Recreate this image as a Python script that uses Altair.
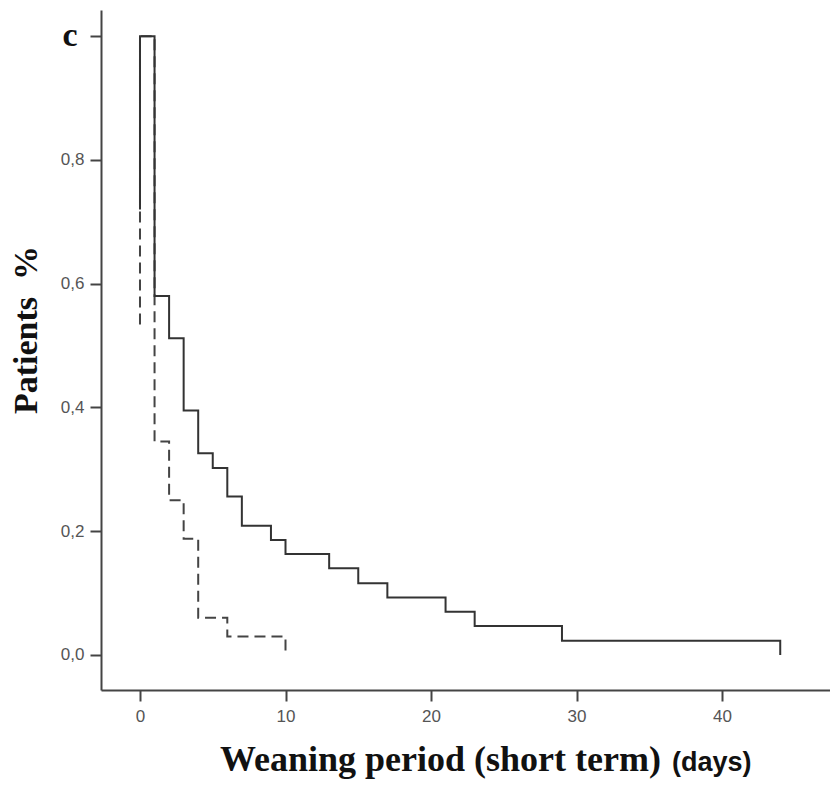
import altair as alt
import pandas as pd

# Solid curve path (days, fraction of patients)
solid_x = [0, 0, 1, 1, 2, 2, 3, 3, 4, 4, 5, 5, 6, 6, 7, 7, 9, 9, 10, 10,
           13, 13, 15, 15, 17, 17, 21, 21, 23, 23, 29, 29, 44, 44]
solid_y = [0.72, 1.0, 1.0, 0.58, 0.58, 0.512, 0.512, 0.395, 0.395, 0.326,
           0.326, 0.302, 0.302, 0.256, 0.256, 0.209, 0.209, 0.186, 0.186, 0.163,
           0.163, 0.14, 0.14, 0.116, 0.116, 0.093, 0.093, 0.07, 0.07, 0.047,
           0.047, 0.023, 0.023, 0.0]

# Dashed curve path
dashed_x = [0, 0, 1, 1, 2, 2, 3, 3, 4, 4, 6, 6, 10, 10]
dashed_y = [0.534, 1.0, 1.0, 0.345, 0.345, 0.25, 0.25, 0.188, 0.188, 0.06,
            0.06, 0.03, 0.03, 0.0]

x_ticks = [0, 10, 20, 30, 40]
y_ticks = [0.0, 0.2, 0.4, 0.6, 0.8, 1.0]

solid_df = pd.DataFrame({"x": solid_x, "y": solid_y, "i": list(range(len(solid_x)))})
dashed_df = pd.DataFrame({"x": dashed_x, "y": dashed_y, "i": list(range(len(dashed_x)))})

xscale = alt.Scale(domain=[-2.68, 47.42], nice=False, zero=False)
yscale = alt.Scale(domain=[-0.0566, 1.0424], nice=False, zero=False)

xaxis = alt.Axis(values=x_ticks, title=None, grid=False, tickSize=11, tickWidth=2,
                 tickColor="#444", domainColor="#444", domainWidth=2,
                 labelFont="Liberation Sans", labelFontSize=17, labelColor="#555",
                 labelPadding=7, format="d")
yaxis = alt.Axis(values=y_ticks, title=None, grid=False, tickSize=11, tickWidth=2,
                 tickColor="#444", domainColor="#444", domainWidth=2,
                 labelFont="Liberation Sans", labelFontSize=17, labelColor="#555",
                 labelPadding=6,
                 labelExpr="datum.value > 0.99 ? '' : replace(format(datum.value, '.1f'), '.', ',')")

dashed = alt.Chart(dashed_df).mark_line(color="#444", strokeWidth=2, strokeDash=[11, 6]).encode(
    x=alt.X("x:Q", scale=xscale, axis=xaxis),
    y=alt.Y("y:Q", scale=yscale, axis=yaxis),
    order="i:Q",
)
solid = alt.Chart(solid_df).mark_line(color="#333", strokeWidth=2).encode(
    x=alt.X("x:Q", scale=xscale),
    y=alt.Y("y:Q", scale=yscale),
    order="i:Q",
)

def label(text, px, py, **kw):
    return alt.Chart(pd.DataFrame({"t": [text]})).mark_text(**kw).encode(
        x=alt.value(px), y=alt.value(py), text="t:N")

panel = label("c", -31, 26, font="Liberation Serif", fontWeight="bold", fontSize=34,
              baseline="middle", align="center", color="#111")
ytitle = label("Patients\u00a0\u00a0%", -74, 320, font="Liberation Serif", fontWeight="bold", fontSize=34,
               baseline="middle", align="center", angle=270, color="#111")
xtitle = label("Weaning period (short term)", 119, 761, font="Liberation Serif", fontWeight="bold",
               fontSize=36, baseline="alphabetic", align="left", color="#111")
xunit = label("(days)", 571, 761, font="Liberation Sans", fontWeight="bold",
              fontSize=27, baseline="alphabetic", align="left", color="#111")

chart = alt.layer(dashed, solid, panel, ytitle, xtitle, xunit).properties(
    width=729, height=680,
    autosize=alt.AutoSizeParams(type="none"),
    padding={"left": 93, "top": 2, "right": 0, "bottom": 91},
    background="white",
).configure_view(stroke=None)

chart.save("out.html", embed_options={"renderer": "svg", "actions": False})
